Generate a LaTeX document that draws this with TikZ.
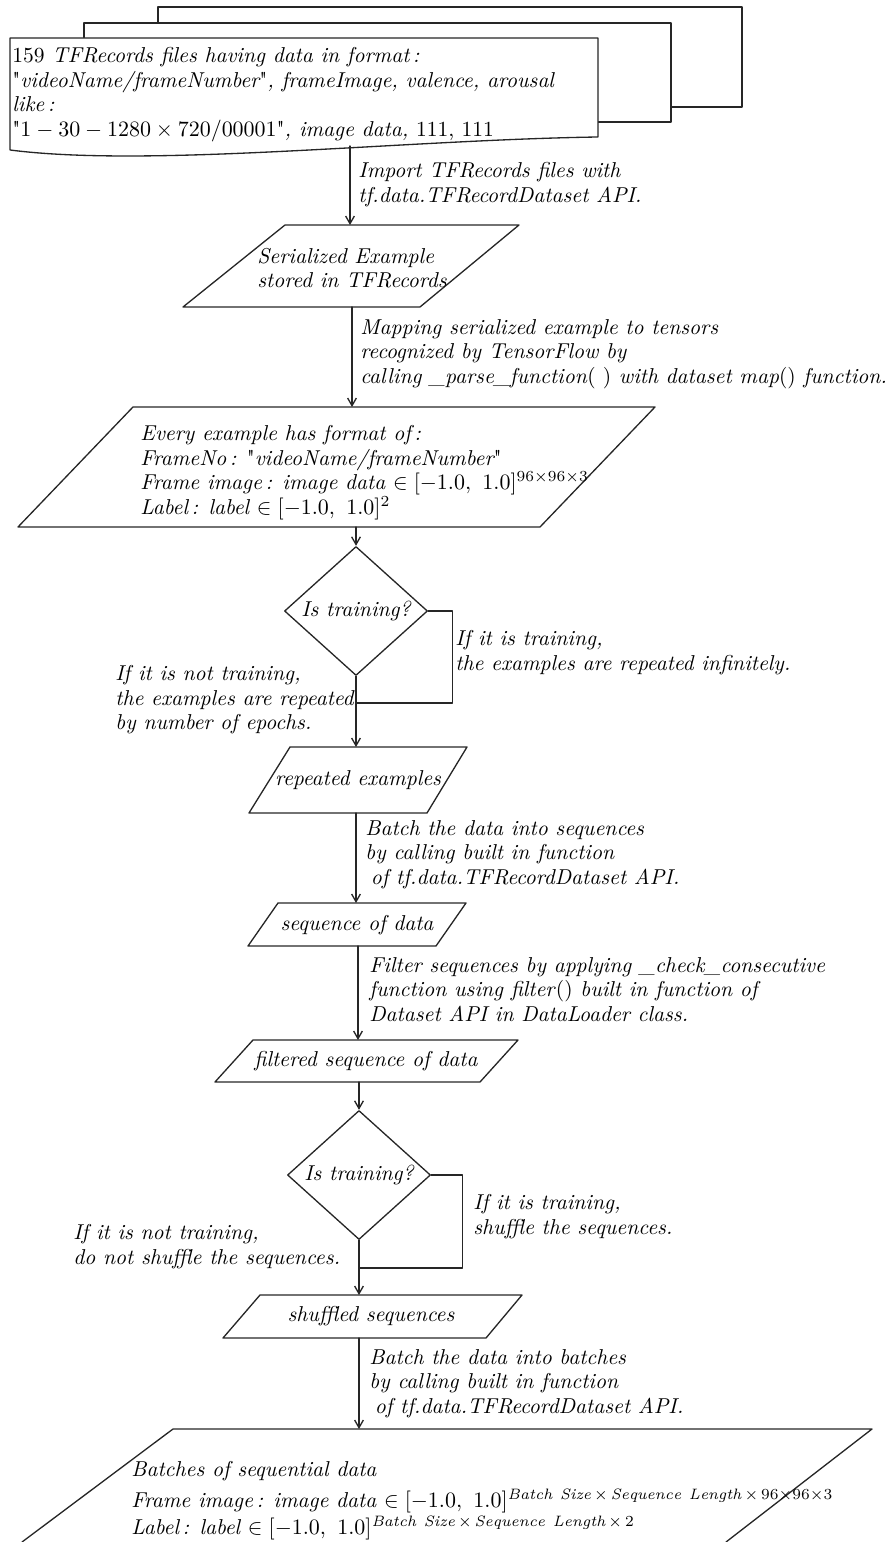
\documentclass[tikz,border=0pt]{standalone}
\usepackage{fontspec}
\usepackage{amsmath}
\usetikzlibrary{arrows.meta,shapes.geometric}

\newfontfamily\qfont{lmroman10-regular.otf}
\newcommand{\dq}{{\qfont\char34}}

\begin{document}
\begin{tikzpicture}[x=0.016cm, y=-0.016cm, line cap=round, line join=round]
  \def\lw{0.6pt} % line width of all strokes
  \tikzset{
    box/.style={line width=\lw, draw=black!85},
    io_text/.style={font=\itshape\fontsize{9.8}{11.2}\selectfont, inner sep=0pt, align=left},
    note/.style={font=\itshape\fontsize{9.8}{11.2}\selectfont, inner sep=0pt, align=left, anchor=north west},
    decide/.style={diamond, line width=\lw, draw=black!85, minimum width=2.29cm, minimum height=1.65cm, inner sep=0pt, font=\itshape\fontsize{9.8}{11.2}\selectfont},
    flow/.style={line width=\lw, draw=black!85, -{Straight Barb[length=3.5pt, width=4pt]}},
    link/.style={line width=\lw, draw=black!85}
  }
  \useasboundingbox (0,0) rectangle (890,1542);

  % stacked TFRecords sheets
  \draw[box, fill=white] (158,7) rectangle (742,107);
  \draw[box, fill=white] (84,23) rectangle (671,122);
  \draw[box, fill=white] (10,38) -- (598,38) -- (598,137) .. controls (400,140) and (150,168) .. (10,150) -- cycle;
  \node[note] (recs) at (12,47) {\textup{159} TFRecords files having data in format\,:\\
    \dq videoName/frameNumber\dq, frameImage, valence, arousal\\
    like\,:\\
    \dq$1-30-1280\times720/00001$\dq, image data, \textup{111, 111}};
  \coordinate (recs_b) at (350,146);

  \node[note] (lbl_import) at (358,162) {Import TFRecords files with\\tf.data.TFRecordDataset API.};

  \draw[box] (285,225) -- (519,225) -- (420,307) -- (183,307) -- cycle;
  \node[io_text] (ser) at (352,268) {Serialized Example\\stored in TFRecords};
  \coordinate (ser_t) at (350,225);
  \coordinate (ser_b) at (352,307);
  \draw[flow] (recs_b) -- (ser_t);

  \node[note] (lbl_map) at (360,319) {Mapping serialized example to tensors\\
    recognized by TensorFlow by\\
    calling \_parse\_function\textup{( )} with dataset map\textup{()} function.};

  \draw[box] (133,407) -- (655,407) -- (540,527) -- (18,527) -- cycle;
  \node[note] (evx) at (140,425) {Every example has format of\,:\\
    FrameNo\,: \dq videoName/frameNumber\dq\\
    Frame image\,: image data $\in[-1.0,\ 1.0]^{96\times96\times3}$\\
    Label\,: label $\in[-1.0,\ 1.0]^{2}$};
  \coordinate (evx_t) at (352,407);
  \coordinate (evx_b) at (356,527);
  \draw[flow] (ser_b) -- (evx_t);

  % first decision: repeat
  \node[decide] (dec1) at (356,611) {Is training?};
  \draw[flow] (evx_b) -- (dec1.north);
  \coordinate (join1) at (356,703);
  \draw[link] (dec1.east) -- ++(24,0) |- (join1);
  \node[note] (yes1) at (455,630) {If it is training,\\the examples are repeated infinitely.};
  \node[note] (no1) at (115,665) {If it is not training,\\the examples are repeated\\by number of epochs.};

  \draw[box] (290,747) -- (467,747) -- (427,813) -- (249,813) -- cycle;
  \node[io_text] (rep) at (358,780) {repeated examples};
  \coordinate (rep_t) at (356,747);
  \coordinate (rep_b) at (356,813);
  \draw[flow] (dec1.south) -- (rep_t);

  \node[note] (lbl_seq) at (365,820) {Batch the data into sequences\\
    by calling built in function\\
    \hspace*{2.5pt}of tf.data.TFRecordDataset API.};

  \draw[box] (278,903) -- (466,903) -- (436,946) -- (248,946) -- cycle;
  \node[io_text] (seq) at (357,925) {sequence of data};
  \coordinate (seq_t) at (356,903);
  \coordinate (seq_b) at (358,946);
  \draw[flow] (rep_b) -- (seq_t);

  \node[note] (lbl_filter) at (369,957) {Filter sequences by applying \_check\_consecutive\\
    function using filter\textup{()} built in function of\\
    Dataset API in DataLoader class.};

  \draw[box] (253,1040) -- (518,1040) -- (480,1082) -- (215,1082) -- cycle;
  \node[io_text] (flt) at (366,1061) {filtered sequence of data};
  \coordinate (flt_t) at (358,1040);
  \coordinate (flt_b) at (359,1082);
  \draw[flow] (seq_b) -- (flt_t);

  % second decision: shuffle
  \node[decide] (dec2) at (359,1175) {Is training?};
  \draw[flow] (flt_b) -- (dec2.north);
  \coordinate (join2) at (359,1268);
  \draw[link] (dec2.east) -- ++(31,0) |- (join2);
  \node[note] (yes2) at (473,1194) {If it is training,\\shuffle the sequences.};
  \node[note] (no2) at (73,1224) {If it is not training,\\do not shuffle the sequences.};

  \draw[box] (260,1295) -- (522,1295) -- (486,1338) -- (223,1338) -- cycle;
  \node[io_text] (shf) at (371,1316) {shuffled sequences};
  \coordinate (shf_t) at (359,1295);
  \coordinate (shf_b) at (359,1338);
  \draw[flow] (dec2.south) -- (shf_t);

  \node[note] (lbl_batch) at (369,1349) {Batch the data into batches\\
    by calling built in function\\
    \hspace*{2.5pt}of tf.data.TFRecordDataset API.};

  \draw[box] (22,1542) -- (173,1429) -- (872,1429) -- (726,1542);
  \node[note] (bat) at (131,1461) {Batches of sequential data\\[3pt]
    Frame image\,: image data $\in[-1.0,\ 1.0]^{\mathit{Batch\ Size}\,\times\,\mathit{Sequence\ Length}\,\times\,96\times96\times3}$\\[1pt]
    Label\,: label $\in[-1.0,\ 1.0]^{\mathit{Batch\ Size}\,\times\,\mathit{Sequence\ Length}\,\times\,2}$};
  \coordinate (bat_t) at (359,1429);
  \draw[flow] (shf_b) -- (bat_t);
\end{tikzpicture}
\end{document}
